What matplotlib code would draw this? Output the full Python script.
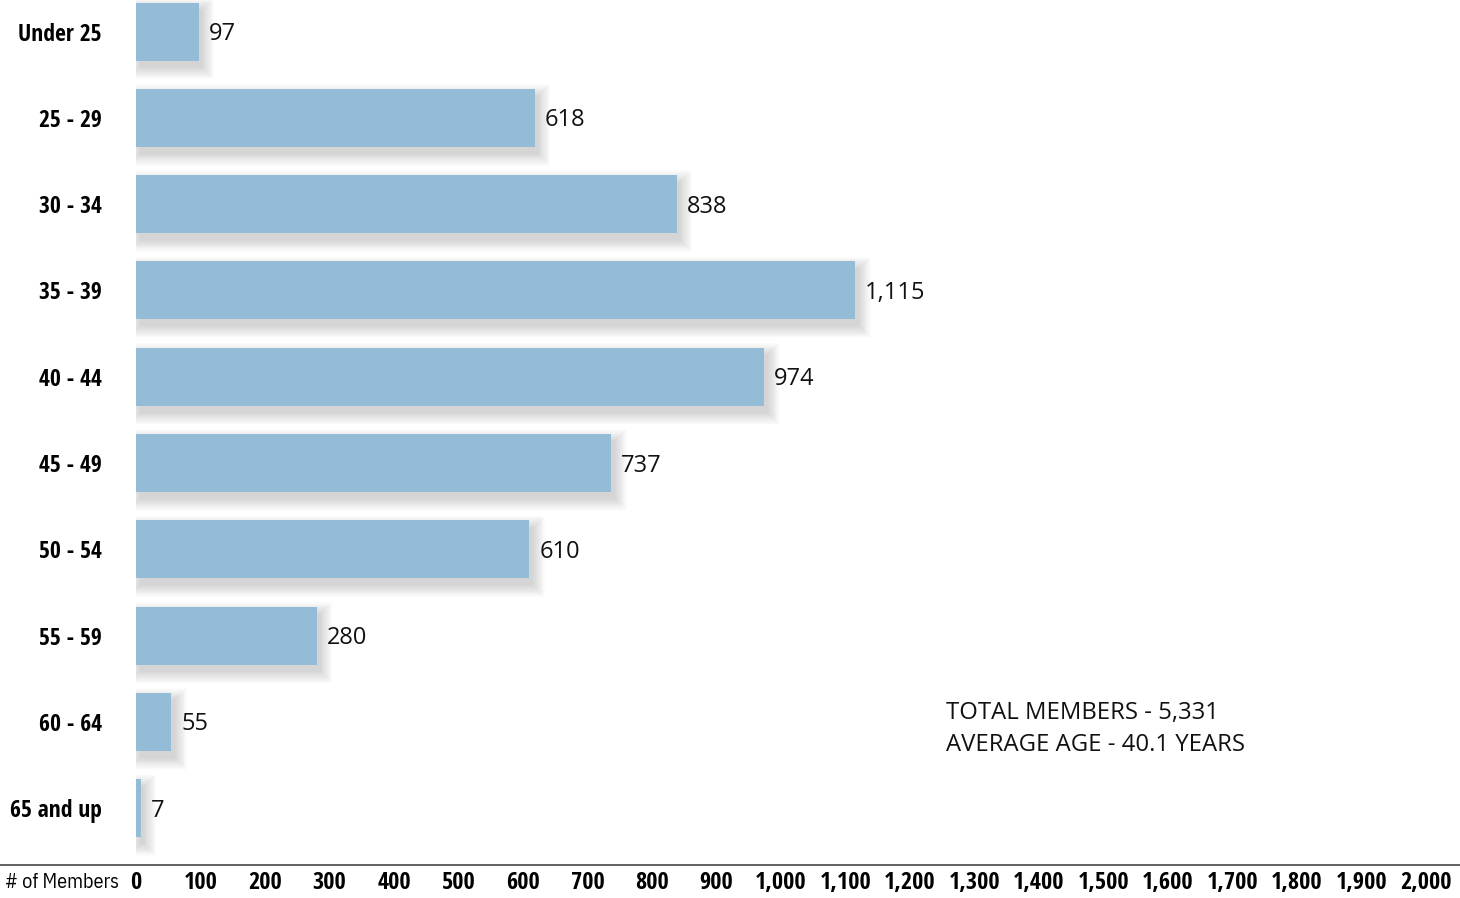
import matplotlib
matplotlib.use("Agg")
import matplotlib.pyplot as plt
from matplotlib.lines import Line2D

categories = ["Under 25", "25 - 29", "30 - 34", "35 - 39", "40 - 44",
              "45 - 49", "50 - 54", "55 - 59", "60 - 64", "65 and up"]
members = [97, 618, 838, 1115, 974, 737, 610, 280, 55, 7]
value_labels = ["97", "618", "838", "1,115", "974", "737", "610", "280", "55", "7"]
xticks = list(range(0, 2001, 100))
xtick_labels = [f"{v:,}" for v in xticks]
total_members = "5,331"
average_age = "40.1"

COND_BOLD = dict(family=["Open Sans Condensed", "DejaVu Sans"], fontweight="bold")
REG = ["Open Sans", "DejaVu Sans"]

W, H = 1460, 898
fig = plt.figure(figsize=(W / 100, H / 100), dpi=100)
ax = fig.add_axes([136 / W, (H - 865) / H, 1 - 136 / W, 865 / H])

px_x = 0.645       # pixels per data unit (x)
px_y = 86.3        # pixels per category (y)
ax.set_xlim(0, (W - 136) / px_x)
ax.set_ylim((865 - 31.5) / px_y, -31.5 / px_y)

bar_color = "#94bcd6"
bar_h = 58 / px_y
ys = list(range(len(categories)))

# soft drop shadow
n_layers = 14
for k in range(n_layers):
    grow_x = (k * 0.9) / px_x
    grow_y = (k * 0.9) / px_y
    off_x = 4 / px_x
    off_y = 7 / px_y
    ax.barh([y + off_y for y in ys], [m + 2 * grow_x for m in members],
            left=[off_x - grow_x] * len(ys), height=bar_h + 2 * grow_y,
            color="#000000", alpha=0.011, linewidth=0, zorder=1)

ax.barh(ys, members, height=bar_h, color=bar_color, linewidth=0, zorder=3)

for y, m, lab in zip(ys, members, value_labels):
    ax.text(m + 10 / px_x, y + 0.03, lab, va="center", ha="left",
            fontsize=17, family=REG, color="#111111", zorder=4)

ax.set_yticks(ys)
ax.set_yticklabels(categories, fontsize=17, **COND_BOLD)
ax.tick_params(axis="y", length=0, pad=34 / 100 * 72)

ax.set_xticks(xticks)
ax.set_xticklabels(xtick_labels, fontsize=17.5, **COND_BOLD)
ax.tick_params(axis="x", length=0, pad=4)

for s in ["top", "right", "left", "bottom"]:
    ax.spines[s].set_visible(False)

fig.add_artist(Line2D([0, 1], [(H - 865) / H] * 2, transform=fig.transFigure,
                      color="#555555", linewidth=1.3))
fig.text(5 / W, (H - 882) / H, "# of Members", ha="left", va="center",
         family=["IBM Plex Sans Condensed", "DejaVu Sans"], fontsize=14.5)

fig.text(946 / W, (H - 713) / H, f"TOTAL MEMBERS - {total_members}", ha="left",
         va="center", family=REG, fontsize=17.2, color="#111111")
fig.text(946 / W, (H - 745) / H, f"AVERAGE AGE - {average_age} YEARS", ha="left",
         va="center", family=REG, fontsize=17.2, color="#111111")

fig.savefig("out.png", dpi=100, facecolor="white")
